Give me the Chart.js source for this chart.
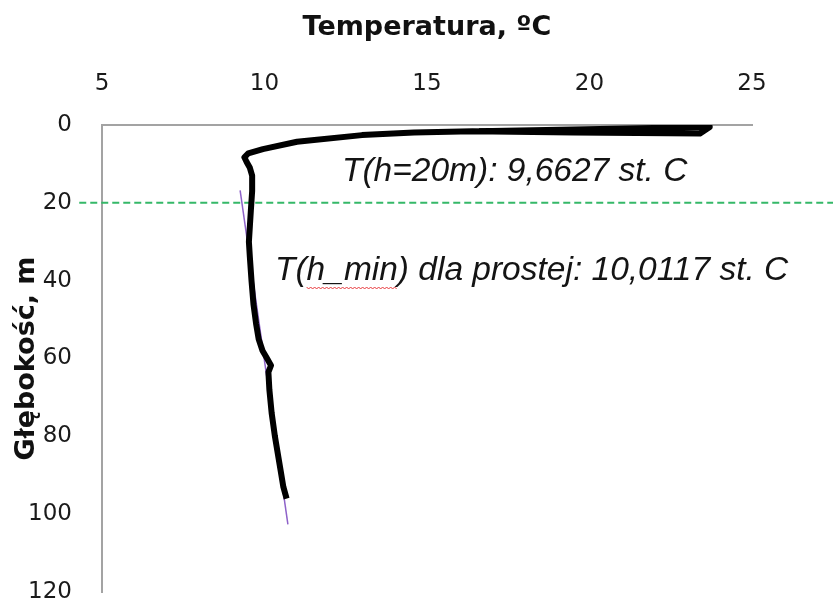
<!DOCTYPE html>
<html>
<head>
<meta charset="utf-8">
<script src="https://cdn.jsdelivr.net/npm/chart.js@4/dist/chart.umd.min.js"></script>
<style>
  html, body { margin: 0; padding: 0; background: #fff; }
  #wrap { width: 833px; height: 601px; }
</style>
</head>
<body>
<div id="wrap"><canvas id="c" width="833" height="601"></canvas></div>
<script>
// temperature profile (deg C) vs depth (m)
const curveTemp  = [16.6, 23.7, 23.4, 19.5, 16.4, 14.6, 13.0, 11.0, 9.95, 9.5, 9.38, 9.45, 9.55, 9.62, 9.62, 9.58, 9.55, 9.52, 9.55, 9.6, 9.66, 9.74, 9.82, 9.94, 10.08, 10.2, 10.12, 10.15, 10.22, 10.32, 10.42, 10.5, 10.58, 10.68];
const curveDepth = [1.6, 0.5, 2.2, 1.9, 1.6, 1.9, 2.6, 4.3, 6.2, 7.3, 8.3, 9.5, 11.0, 13.0, 17.0, 22.0, 26.0, 30.0, 34.0, 40.0, 46.0, 51.0, 55.0, 58.0, 60.0, 61.8, 63.5, 68.0, 74.0, 80.0, 85.0, 89.0, 93.0, 96.0];

// fitted straight line
const fitTemp  = [9.25, 10.72];
const fitDepth = [16.8, 102.6];

// reference depth h = 20 m
const refTemp  = [4.3, 27.6];
const refDepth = [20, 20];

const xTicks = [5, 10, 15, 20, 25];
const yTicks = [0, 20, 40, 60, 80, 100, 120];

const label1 = 'T(h=20m): 9,6627 st. C';
const label2Head = 'T(';
const label2Mark = 'h_min';
const label2Tail = ') dla prostej: 10,0117 st. C';

const pts = (xs, ys) => xs.map((x, i) => ({x, y: ys[i]}));

const notes = {
  id: 'notes',
  afterDatasetsDraw(chart){
    const ctx = chart.ctx;
    ctx.save();
    ctx.fillStyle = '#141414';
    ctx.font = 'italic 33.5px "Liberation Sans", Arial, sans-serif';
    ctx.textBaseline = 'middle';
    ctx.fillText(label1, 342, 172);
    const x0 = 275, y0 = 271;
    ctx.fillText(label2Head + label2Mark + label2Tail, x0, y0);
    // spell-check squiggle under h_min
    const sx = x0 + ctx.measureText(label2Head).width;
    const ex = sx + ctx.measureText(label2Mark).width;
    ctx.strokeStyle = '#e8363a';
    ctx.lineWidth = 1;
    ctx.beginPath();
    let up = true;
    for(let x = sx; x <= ex; x += 2){
      const y = y0 + 16 + (up ? 0 : 2);
      if(x === sx) ctx.moveTo(x, y); else ctx.lineTo(x, y);
      up = !up;
    }
    ctx.stroke();
    ctx.restore();
  }
};

new Chart(document.getElementById('c'), {
  type: 'scatter',
  data: {
    datasets: [
      {data: pts(curveTemp, curveDepth), showLine: true, borderColor: '#000', borderWidth: 6,
       borderJoinStyle: 'round', pointRadius: 0, tension: 0},
      {data: pts(fitTemp, fitDepth), showLine: true, borderColor: '#8e62c9', borderWidth: 1.5,
       pointRadius: 0, clip: false},
      {data: pts(refTemp, refDepth), showLine: true, borderColor: '#35b868', borderWidth: 2,
       borderDash: [7, 4], pointRadius: 0, clip: false}
    ]
  },
  options: {
    responsive: false,
    animation: false,
    devicePixelRatio: 1,
    layout: {padding: {left: 0, top: 0, right: 81, bottom: 9}},
    plugins: {legend: {display: false}, tooltip: {enabled: false}},
    scales: {
      x: {
        type: 'linear', position: 'top', min: 5, max: 25,
        afterBuildTicks: s => { s.ticks = xTicks.map(v => ({value: v})); },
        afterFit: s => { s.height = 125; },
        grid: {display: false, drawTicks: false},
        border: {display: true, color: '#a3a3a3', width: 2},
        ticks: {color: '#1a1a1a', padding: 27, font: {family: '"DejaVu Sans", Verdana, sans-serif', size: 23}},
        title: {display: true, text: 'Temperatura, ºC', color: '#111',
                padding: {top: 12, bottom: 0},
                font: {family: '"DejaVu Sans", Tahoma, sans-serif', size: 27, weight: 'bold'}}
      },
      y: {
        type: 'linear', reverse: true, min: 0, max: 120,
        afterBuildTicks: s => { s.ticks = yTicks.map(v => ({value: v})); },
        afterFit: s => { s.width = 102; s.paddingTop = 0; s.paddingBottom = 0; },
        grid: {display: false, drawTicks: false},
        border: {display: true, color: '#a3a3a3', width: 2},
        ticks: {color: '#1a1a1a', padding: 30, font: {family: '"DejaVu Sans", Verdana, sans-serif', size: 23}},
        title: {display: true, text: 'Głębokość, m', color: '#111',
                padding: {top: 11, bottom: 0},
                font: {family: '"DejaVu Sans", Tahoma, sans-serif', size: 27, weight: 'bold'}}
      }
    }
  },
  plugins: [notes]
});
</script>
</body>
</html>
